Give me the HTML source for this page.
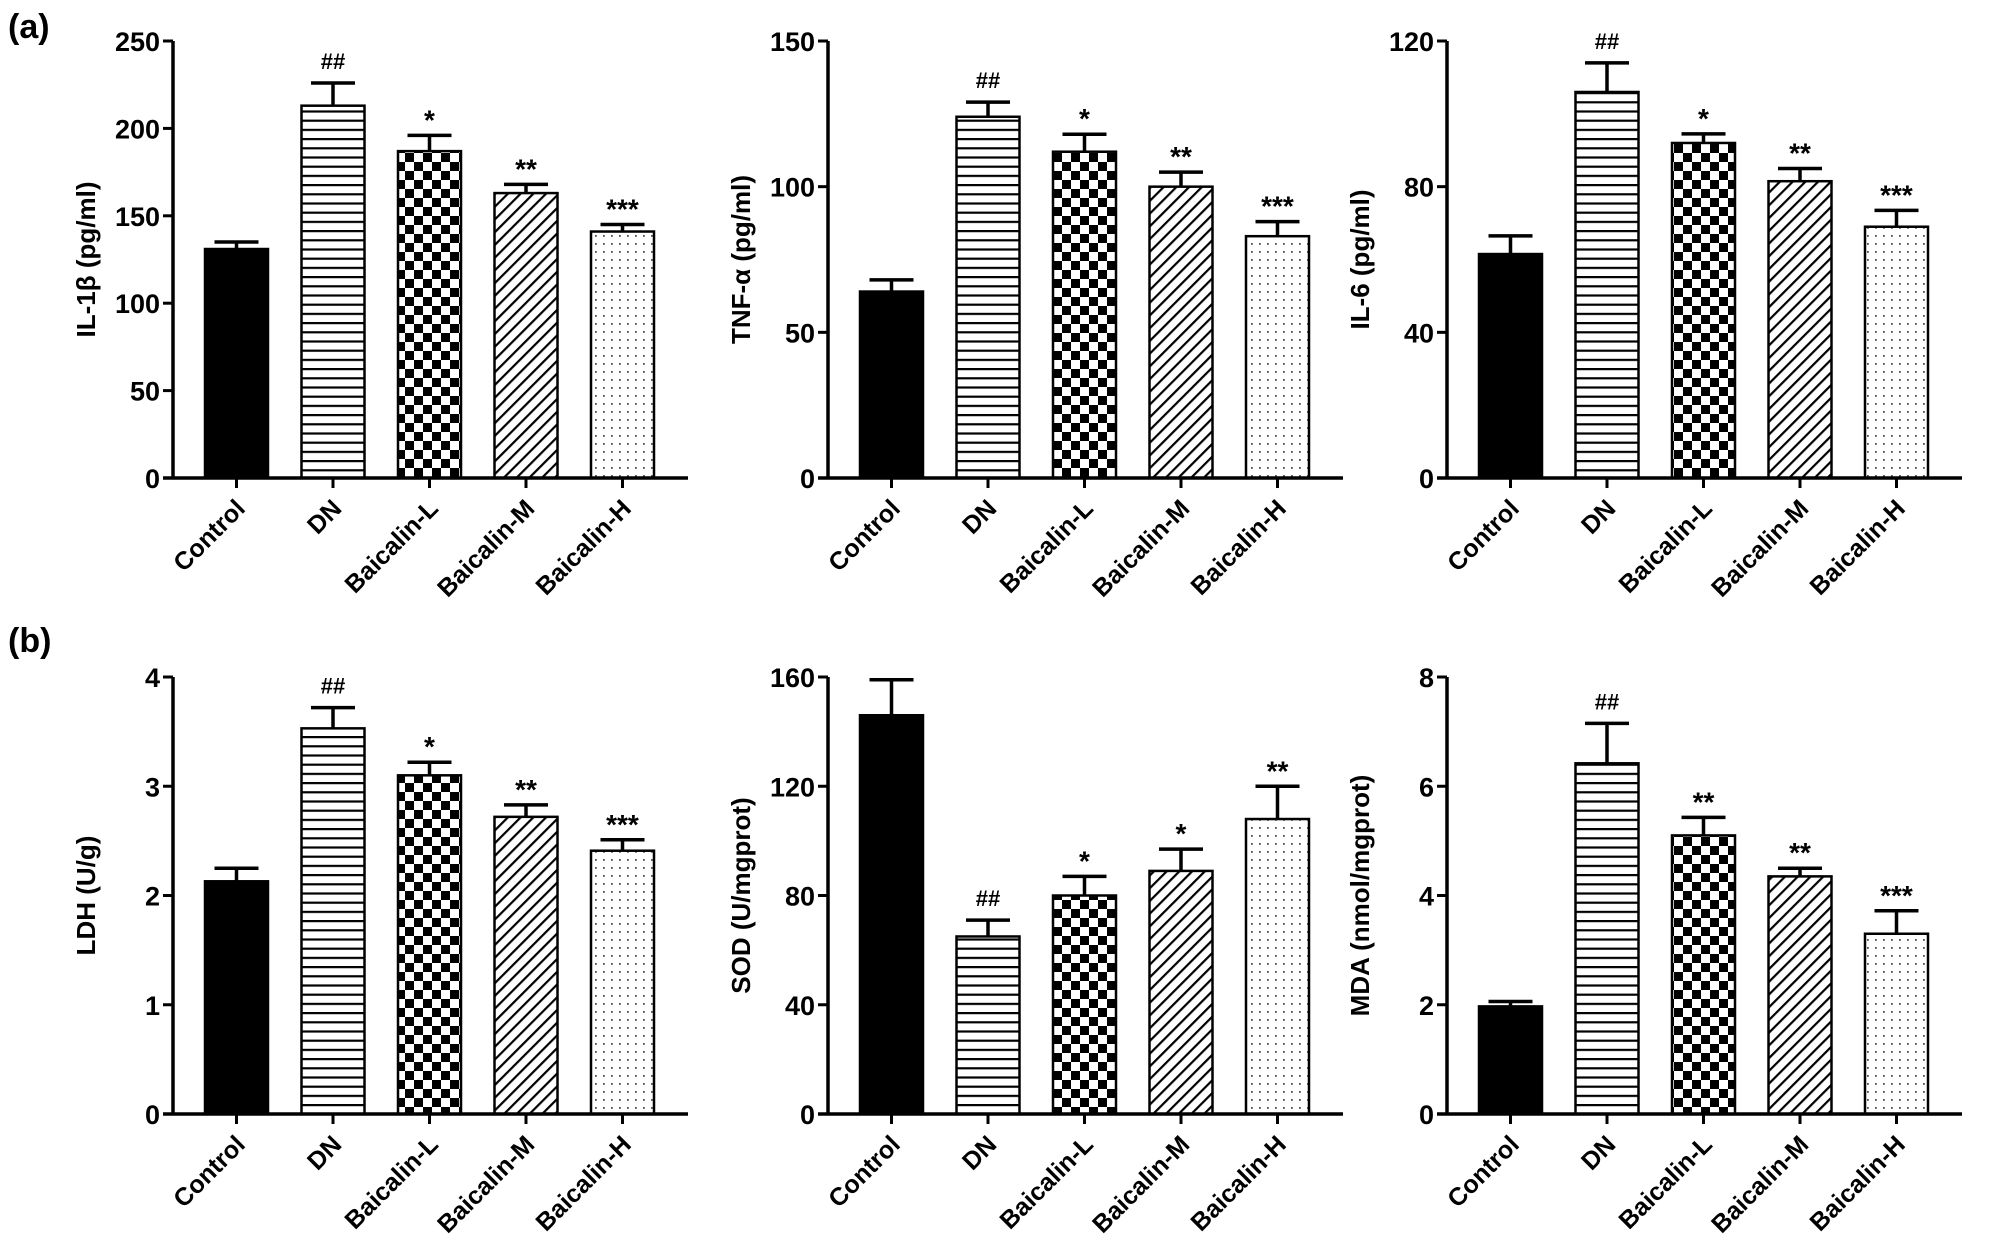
<!DOCTYPE html>
<html><head><meta charset="utf-8">
<style>
html,body{margin:0;padding:0;background:#fff;}
svg{display:block;font-family:"Liberation Sans",Arial,sans-serif;}
</style></head>
<body>
<svg id="fig" width="2000" height="1241" viewBox="0 0 2000 1241" xmlns="http://www.w3.org/2000/svg">
<defs>
<pattern id="p-hlines" patternUnits="userSpaceOnUse" width="10" height="9.2"><rect width="10" height="9.2" fill="#fff"/><rect y="0" width="10" height="2.2" fill="#000"/></pattern>
<pattern id="p-check" patternUnits="userSpaceOnUse" width="18" height="18"><rect width="18" height="18" fill="#fff"/><rect width="9" height="9" fill="#000"/><rect x="9" y="9" width="9" height="9" fill="#000"/></pattern>
<pattern id="p-diag" patternUnits="userSpaceOnUse" width="9" height="9" patternTransform="rotate(45)"><rect width="9" height="9" fill="#fff"/><rect width="2.2" height="9" fill="#000"/></pattern>
<pattern id="p-dots" patternUnits="userSpaceOnUse" width="8" height="8"><rect width="8" height="8" fill="#fff"/><rect x="3" y="3" width="1.8" height="1.8" fill="#555"/></pattern>
</defs>
<text x="8" y="38" font-size="34" font-weight="bold">(a)</text>
<text x="8" y="652" font-size="34" font-weight="bold">(b)</text>
</svg>
<script>
const categories = ["Control","DN","Baicalin-L","Baicalin-M","Baicalin-H"];
const il1bValues = [131,213,187,163,141];
const il1bErrors = [4,13,9,5,4];
const il1bSig = ["","##","*","**","***"];
const tnfValues = [64,124,112,100,83];
const tnfErrors = [4,5,6,5,5];
const tnfSig = ["","##","*","**","***"];
const il6Values = [61.5,106,92,81.5,69];
const il6Errors = [5,8,2.5,3.5,4.5];
const il6Sig = ["","##","*","**","***"];
const ldhValues = [2.13,3.53,3.1,2.72,2.41];
const ldhErrors = [0.12,0.19,0.12,0.11,0.1];
const ldhSig = ["","##","*","**","***"];
const sodValues = [146,65,80,89,108];
const sodErrors = [13,6,7,8,12];
const sodSig = ["","##","*","*","**"];
const mdaValues = [1.97,6.42,5.1,4.35,3.3];
const mdaErrors = [0.09,0.73,0.33,0.15,0.42];
const mdaSig = ["","##","**","**","***"];
const il1bTicks = [0,50,100,150,200,250];
const tnfTicks = [0,50,100,150];
const il6Ticks = [0,40,80,120];
const ldhTicks = [0,1,2,3,4];
const sodTicks = [0,40,80,120,160];
const mdaTicks = [0,2,4,6,8];

const NS="http://www.w3.org/2000/svg";
const svg=document.getElementById('fig');
const fills=["#000","url(#p-hlines)","url(#p-check)","url(#p-diag)","url(#p-dots)"];
function mk(tag,attrs,parent){const e=document.createElementNS(NS,tag);for(const k in attrs)e.setAttribute(k,attrs[k]);(parent||svg).appendChild(e);return e;}

function panel(id,ax,zeroY,title,ticks,vals,errs,sig){
  const g=mk('g',{});
  
  
  const H=437, max=ticks[ticks.length-1];
  const y=v=>zeroY-v/max*H;
  const x=i=>ax+32+i*96.5;
  const bw=63;
  vals.forEach((v,i)=>{
    const r=mk('rect',{x:x(i),y:y(v),width:bw,height:zeroY-y(v),fill:fills[i],stroke:'#000','stroke-width':2.5},g);
    
    
    const cx=x(i)+bw/2, top=y(v+errs[i]);
    const eb=mk('path',{d:`M${cx},${y(v)} V${top} M${cx-22},${top} H${cx+22}`,stroke:'#000','stroke-width':3.5,fill:'none'},g);
    
    
    if(sig[i]){
      const isHash=sig[i][0]==='#';
      const t=mk('text',{x:cx,y:top-(isHash?14:6),'text-anchor':'middle','font-size':isHash?22:28,'font-weight':'bold'},g);
      t.textContent=sig[i];
      
      
    }
  });
  const ya=mk('path',{d:`M${ax},${y(max)} V${zeroY}`,stroke:'#000','stroke-width':3.5,fill:'none'},g);
  
  
  const xa=mk('path',{d:`M${ax-10},${zeroY} H${ax+515}`,stroke:'#000','stroke-width':3.5,fill:'none'},g);
  
  
  ticks.forEach(tv=>{
    mk('path',{d:`M${ax-10},${y(tv)} H${ax}`,stroke:'#000','stroke-width':3},g);
    const t=mk('text',{x:ax-13,y:y(tv)+10,'text-anchor':'end','font-size':27,'font-weight':'bold'},g);
    t.textContent=tv;
    
    
  });
  categories.forEach((c,i)=>{
    const cx=x(i)+bw/2;
    mk('path',{d:`M${cx},${zeroY} V${zeroY+10}`,stroke:'#000','stroke-width':3},g);
    const t=mk('text',{x:cx+10,y:zeroY+32,'text-anchor':'end','font-size':25,'font-weight':'bold',transform:`rotate(-45 ${cx+10} ${zeroY+32})`},g);
    t.textContent=c;
    
    
  });
  const ty=zeroY-H/2, tx=ax-78;
  const tt=mk('text',{x:tx,y:ty,'text-anchor':'middle','font-size':26,'font-weight':'bold',transform:`rotate(-90 ${tx} ${ty})`},g);
  tt.textContent=title;
  
  
}
panel('il1b',173,478,'IL-1β (pg/ml)',il1bTicks,il1bValues,il1bErrors,il1bSig);
panel('tnf',828,478,'TNF-α (pg/ml)',tnfTicks,tnfValues,tnfErrors,tnfSig);
panel('il6',1447,478,'IL-6 (pg/ml)',il6Ticks,il6Values,il6Errors,il6Sig);
panel('ldh',173,1114,'LDH (U/g)',ldhTicks,ldhValues,ldhErrors,ldhSig);
panel('sod',828,1114,'SOD (U/mgprot)',sodTicks,sodValues,sodErrors,sodSig);
panel('mda',1447,1114,'MDA (nmol/mgprot)',mdaTicks,mdaValues,mdaErrors,mdaSig);
</script>
</body></html>
